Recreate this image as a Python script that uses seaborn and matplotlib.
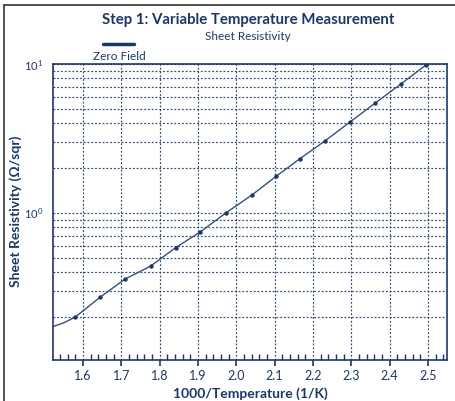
import matplotlib
matplotlib.use("Agg")
import matplotlib.pyplot as plt
import matplotlib.ticker as mticker
from matplotlib.lines import Line2D
import seaborn as sns
import pandas as pd
import numpy as np

# ---- data ----
inv_temp = [1.58, 1.645, 1.71, 1.777, 1.842, 1.906, 1.973, 2.041, 2.104, 2.166, 2.232, 2.297, 2.362, 2.430, 2.495]
resistivity = [0.20, 0.272, 0.36, 0.44, 0.585, 0.745, 1.0, 1.32, 1.76, 2.31, 3.05, 4.08, 5.45, 7.35, 9.85]
# fitted curve (extends to the left edge of the plot)
curve_x = [1.52, 1.55, 1.58] + inv_temp[1:]
curve_y = [0.172, 0.183, 0.20] + resistivity[1:]
x_ticks = [1.6, 1.7, 1.8, 1.9, 2.0, 2.1, 2.2, 2.3, 2.4, 2.5]
series_name = "Zero Field"

NAVY = "#1c3766"
LINE = "#33507e"
FONT = ["Lato", "DejaVu Sans"]

sns.set_theme(style="white")
plt.rcParams["font.family"] = FONT
plt.rcParams["mathtext.fontset"] = "custom"
plt.rcParams["mathtext.rm"] = "Lato"
plt.rcParams["mathtext.default"] = "regular"

fig = plt.figure(figsize=(4.56, 4.01), dpi=100)
fig.patch.set_facecolor("white")
ax = fig.add_axes([53/456, 1-360/401, (447-53)/456, (360-64)/401])

pts = pd.DataFrame({"x": inv_temp, "y": resistivity})
crv = pd.DataFrame({"x": curve_x, "y": curve_y})

sns.lineplot(data=crv, x="x", y="y", ax=ax, color=LINE, linewidth=1.0, sort=True)
sns.scatterplot(data=pts, x="x", y="y", ax=ax, color=NAVY, s=10, edgecolor=NAVY, linewidth=0, zorder=5)

ax.set_yscale("log")
ax.set_ylim(0.103, 10.0)
ax.set_xlim(1.522, 2.55)
ax.set_xticks(x_ticks)
ax.set_xticklabels([f"{v:.1f}" for v in x_ticks])
ax.xaxis.set_minor_locator(mticker.MultipleLocator(0.02))
ax.yaxis.set_major_locator(mticker.FixedLocator([1.0, 10.0]))
ax.yaxis.set_major_formatter(mticker.FixedFormatter(["$10^{0}$", "$10^{1}$"]))
ax.yaxis.set_minor_locator(mticker.LogLocator(base=10, subs=np.arange(2, 10)))
ax.yaxis.set_minor_formatter(mticker.NullFormatter())

grid_style = dict(color=NAVY, linestyle=(0, (1.6, 1.6)), linewidth=0.85, alpha=0.9)
ax.grid(True, which="major", axis="both", **grid_style)
ax.grid(True, which="minor", axis="y", **grid_style)

ax.tick_params(axis="x", which="major", direction="out", length=4, width=1.2, color=NAVY,
               bottom=True, labelsize=9, labelcolor=NAVY, pad=3)
ax.tick_params(axis="x", which="minor", direction="in", length=4, width=1, color=NAVY, bottom=True)
ax.tick_params(axis="y", which="major", length=0, labelsize=8, labelcolor=NAVY, pad=7)
ax.tick_params(axis="y", which="minor", length=0)

for s in ax.spines.values():
    s.set_color(NAVY)
    s.set_linewidth(1.2)
    s.set_visible(True)

ax.set_xlabel("1000/Temperature (1/K)", fontsize=10, fontweight="bold", color=NAVY)
ax.xaxis.set_label_coords((250-53)/(447-53), -(387-360)/(360-64))
ax.set_ylabel("Sheet Resistivity (\u03a9/sqr)", fontsize=10, fontweight="bold", color=NAVY)
ax.yaxis.set_label_coords(-(53-22)/(447-53), (360-211)/(360-64))

fig.text(248/456, 1-20/401, "Step 1: Variable Temperature Measurement", ha="center", va="center",
         fontsize=10.8, fontweight="bold", color=NAVY)
fig.text(248/456, 1-37/401, "Sheet Resistivity", ha="center", va="center", fontsize=8.5, color=NAVY)

# legend: line sample above label
fig.add_artist(Line2D([103/456, 134/456], [1-44/401, 1-44/401], color=NAVY, linewidth=2.5))
fig.text(119/456, 1-57/401, series_name, ha="center", va="center", fontsize=8.5, color=NAVY)

# outer frame: top and left edges only
fig.add_artist(Line2D([4/456, 1.0], [1-5/401, 1-5/401], color="#333333", linewidth=1.2))
fig.add_artist(Line2D([4/456, 4/456], [0.0, 1-5/401], color="#333333", linewidth=1.2))

fig.savefig("out.png", dpi=100)
